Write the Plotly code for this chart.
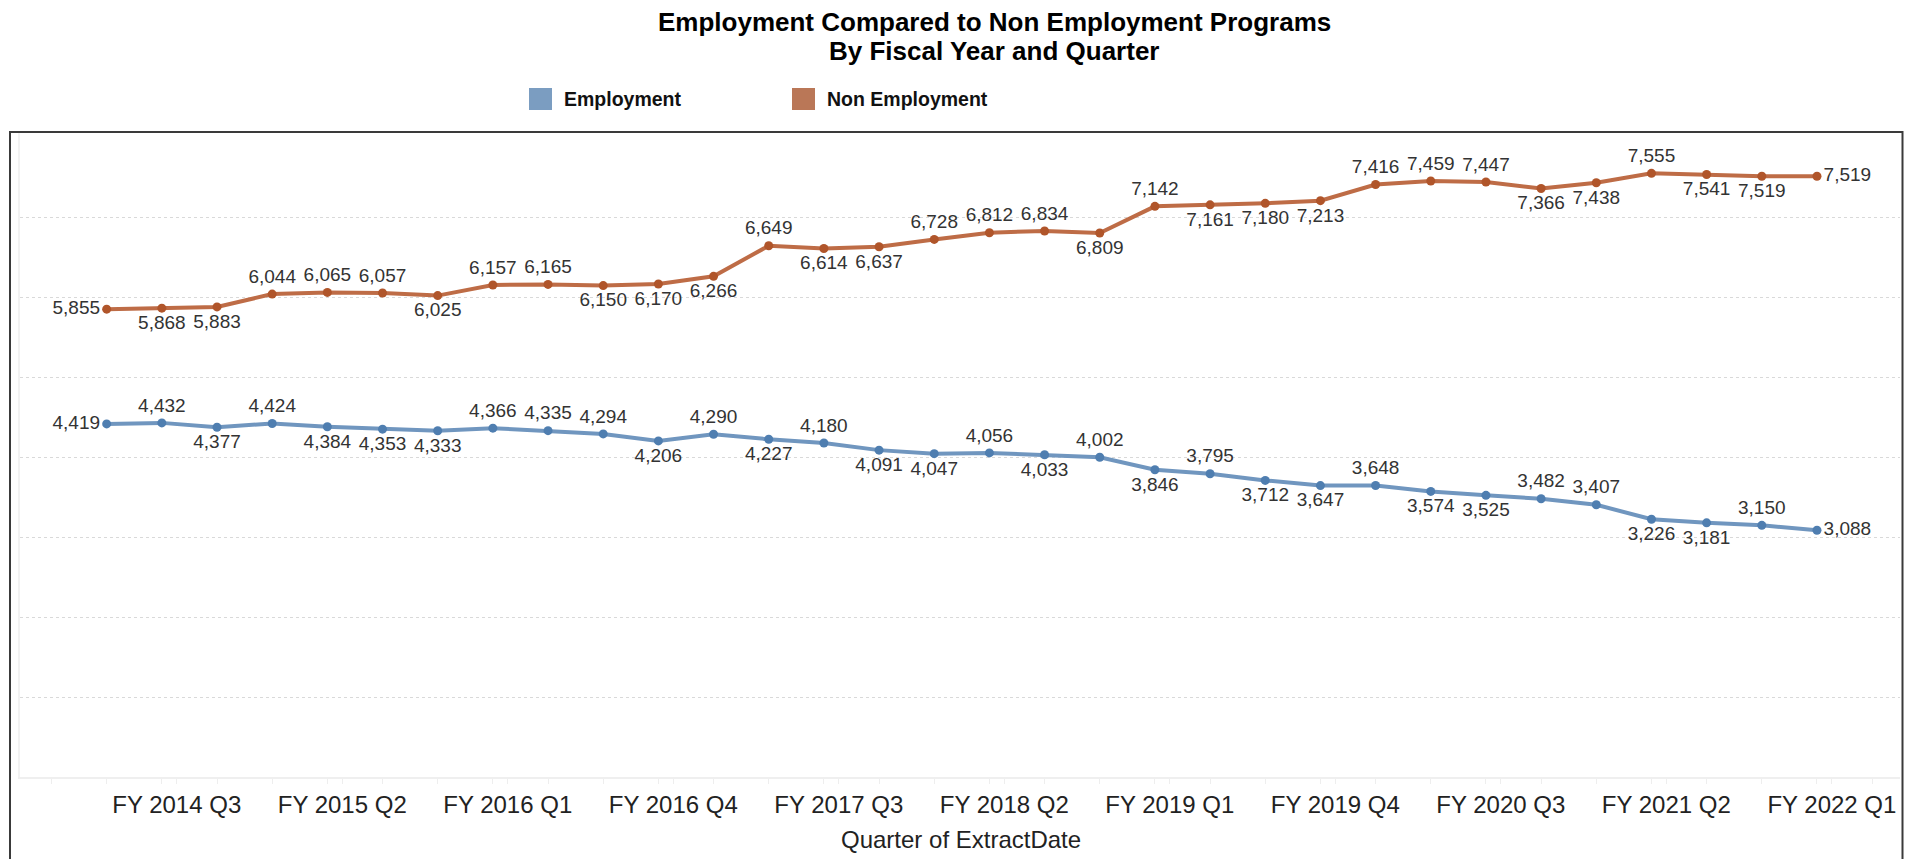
import plotly.graph_objects as go

# ---------------- data ----------------
quarters = []
for fy in range(2014, 2023):
    for q in range(1, 5):
        quarters.append(f"FY {fy} Q{q}")
quarters = quarters[quarters.index("FY 2014 Q2"):quarters.index("FY 2022 Q1") + 1]

employment = [4419, 4432, 4377, 4424, 4384, 4353, 4333, 4366, 4335, 4294, 4206,
              4290, 4227, 4180, 4091, 4047, 4056, 4033, 4002, 3846, 3795, 3712,
              3647, 3648, 3574, 3525, 3482, 3407, 3226, 3181, 3150, 3088]
non_employment = [5855, 5868, 5883, 6044, 6065, 6057, 6025, 6157, 6165, 6150, 6170,
                  6266, 6649, 6614, 6637, 6728, 6812, 6834, 6809, 7142, 7161, 7180,
                  7213, 7416, 7459, 7447, 7366, 7438, 7555, 7541, 7519, 7519]

tick_labels = ["FY 2014 Q3", "FY 2015 Q2", "FY 2016 Q1", "FY 2016 Q4", "FY 2017 Q3",
               "FY 2018 Q2", "FY 2019 Q1", "FY 2019 Q4", "FY 2020 Q3", "FY 2021 Q2",
               "FY 2022 Q1"]
y_grid = [1000, 2000, 3000, 4000, 5000, 6000, 7000]

# label placement (a = above, b = below, l = left, r = right)
emp_pos = "l a b a b b b a a a b a b a b b a b a b a b b a b b a a b b a r".split()
non_pos = "l b b a a a b a a b b b a b b a a a b a b b b a a a b b a b b r".split()

# ---------------- styling ----------------
W, H = 1896, 851          # figure drawn inside the default 8px body margin
def px(x):
    return (x - 8) / W
def py(y):
    return 1 - (y - 8) / H

pos_map = {"a": "top center", "b": "bottom center", "l": "middle left", "r": "middle right"}
fmt = lambda v: f"{v:,}"
xs = list(range(len(quarters)))
label_font = dict(family="Liberation Sans, Arial, sans-serif", size=19, color="#333333")

EMP_LINE, EMP_MARK = "#7096bf", "#4f7eb0"
NON_LINE, NON_MARK = "#be6c46", "#b0552a"

fig = go.Figure()
fig.add_trace(go.Scatter(
    x=xs, y=employment, mode="lines+markers+text", name="Employment",
    line=dict(color=EMP_LINE, width=4), marker=dict(color=EMP_MARK, size=9),
    text=[fmt(v) for v in employment], textposition=[pos_map[p] for p in emp_pos],
    textfont=label_font, cliponaxis=False, customdata=quarters,
    hovertemplate="%{customdata}<br>%{y:,}<extra>Employment</extra>"))
fig.add_trace(go.Scatter(
    x=xs, y=non_employment, mode="lines+markers+text", name="Non Employment",
    line=dict(color=NON_LINE, width=4), marker=dict(color=NON_MARK, size=9),
    text=[fmt(v) for v in non_employment], textposition=[pos_map[p] for p in non_pos],
    textfont=label_font, cliponaxis=False, customdata=quarters,
    hovertemplate="%{customdata}<br>%{y:,}<extra>Non Employment</extra>"))

tickvals = [quarters.index(t) + 0.27 for t in tick_labels]

fig.update_layout(
    width=W, height=H, margin=dict(l=0, r=0, t=0, b=0),
    paper_bgcolor="white", plot_bgcolor="white", showlegend=False,
    font=dict(family="Liberation Sans, Arial, sans-serif", color="#222222"),
    xaxis=dict(domain=[px(20), px(1900)], range=[-1.571, 32.505],
               tickmode="array", tickvals=tickvals, ticktext=tick_labels,
               tickfont=dict(size=24, color="#222222"), ticks="outside", ticklen=5,
               tickcolor="#eeeeee", showgrid=False, zeroline=False,
               showline=True, linecolor="#efefef", linewidth=2,
               minor=dict(ticks="outside", tickmode="linear", tick0=0, dtick=1,
                          ticklen=5, tickcolor="#eeeeee")),
    yaxis=dict(domain=[py(777), py(133)], range=[0, 8060],
               tickmode="array", tickvals=y_grid,
               showticklabels=False, showgrid=True, gridcolor="#d9d9d9",
               griddash="dot", gridwidth=1, zeroline=False,
               showline=True, linecolor="#f2f2f2", linewidth=2),
)

# outer frame
fig.add_shape(type="rect", xref="paper", yref="paper",
              x0=px(10), x1=px(1902.5), y0=py(880), y1=py(132),
              line=dict(color="#3a3a3a", width=2), layer="above")

# title
fig.add_annotation(text="<b>Employment Compared to Non Employment Programs</b>",
                   xref="paper", yref="paper", x=px(994), y=py(22),
                   xanchor="center", yanchor="middle", showarrow=False,
                   font=dict(size=26, color="#000000"))
fig.add_annotation(text="<b>By Fiscal Year and Quarter</b>",
                   xref="paper", yref="paper", x=px(994), y=py(51),
                   xanchor="center", yanchor="middle", showarrow=False,
                   font=dict(size=26, color="#000000"))

# legend
legend_items = [("Employment", "#7b9dc1", 529), ("Non Employment", "#ba7757", 792)]
for name, col, x0 in legend_items:
    fig.add_shape(type="rect", xref="paper", yref="paper",
                  x0=px(x0), x1=px(x0 + 23), y0=py(110), y1=py(88),
                  fillcolor=col, line=dict(width=0))
    fig.add_annotation(text=f"<b>{name}</b>", xref="paper", yref="paper",
                       x=px(x0 + 33), y=py(99), xanchor="left", yanchor="middle",
                       showarrow=False, font=dict(size=19.5, color="#111111"))

# x-axis title
fig.add_annotation(text="Quarter of ExtractDate", xref="paper", yref="paper",
                   x=px(961), y=py(839), xanchor="center", yanchor="middle",
                   showarrow=False, font=dict(size=24, color="#222222"))

fig.write_html("out.html")
